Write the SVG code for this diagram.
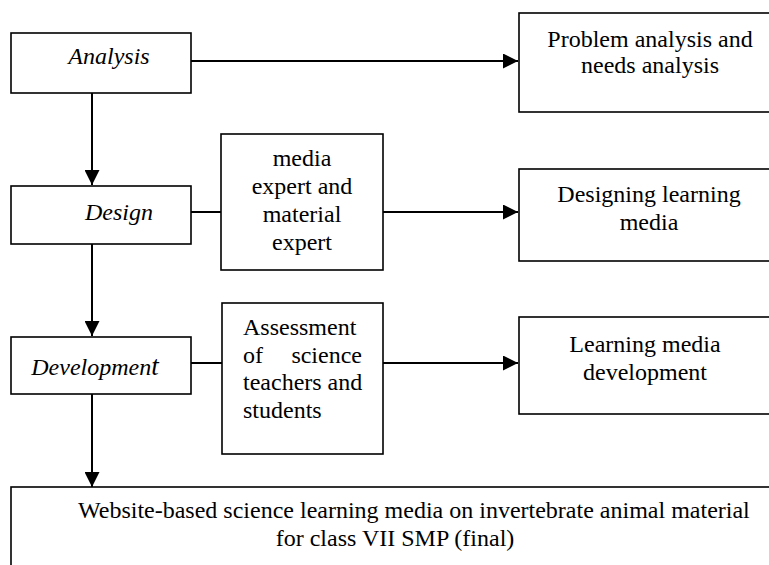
<svg xmlns="http://www.w3.org/2000/svg" width="769" height="565" viewBox="0 0 769 565">
  <style>
    .box { fill: #ffffff; stroke: #000000; stroke-width: 1.6; }
    .link { fill: none; stroke: #000000; stroke-width: 2; }
    .t { font-family: "Liberation Serif", "Times New Roman", serif; font-size: 24px; fill: #000000; }
    .c { text-anchor: middle; }
    .i { font-style: italic; }
  </style>
  <defs>
    <marker id="arrow" markerUnits="userSpaceOnUse" markerWidth="16" markerHeight="15" refX="15" refY="7.5" orient="auto">
      <path d="M0,0 L15,7.5 L0,15 Z" fill="#000000"/>
    </marker>
  </defs>
  <rect x="0" y="0" width="769" height="565" fill="#ffffff"/>

  <g id="connectors">
    <line class="link" x1="191" y1="61" x2="518" y2="61" marker-end="url(#arrow)"/>
    <line class="link" x1="92" y1="93" x2="92" y2="185" marker-end="url(#arrow)"/>
    <line class="link" x1="191" y1="212" x2="221" y2="212"/>
    <line class="link" x1="383" y1="212" x2="518" y2="212" marker-end="url(#arrow)"/>
    <line class="link" x1="92" y1="244" x2="92" y2="336" marker-end="url(#arrow)"/>
    <line class="link" x1="191" y1="363" x2="222" y2="363"/>
    <line class="link" x1="383" y1="363" x2="518" y2="363" marker-end="url(#arrow)"/>
    <line class="link" x1="92" y1="394" x2="92" y2="487" marker-end="url(#arrow)"/>
  </g>

  <g id="analysis">
    <rect class="box" x="11" y="33" width="180" height="60"/>
    <text class="t c i" x="109" y="64">Analysis</text>
  </g>

  <g id="problem-analysis">
    <rect class="box" x="519" y="13" width="262" height="99"/>
    <text class="t c" x="650" y="47">Problem analysis and</text>
    <text class="t c" x="650" y="73">needs analysis</text>
  </g>

  <g id="design">
    <rect class="box" x="11" y="186" width="180" height="58"/>
    <text class="t c i" x="119" y="220">Design</text>
  </g>

  <g id="experts">
    <rect class="box" x="221" y="134" width="162" height="136"/>
    <text class="t c" x="302" y="166">media</text>
    <text class="t c" x="302" y="194">expert and</text>
    <text class="t c" x="302" y="222">material</text>
    <text class="t c" x="302" y="250">expert</text>
  </g>

  <g id="designing-media">
    <rect class="box" x="519" y="169" width="262" height="92"/>
    <text class="t c" x="649" y="202">Designing learning</text>
    <text class="t c" x="649" y="230">media</text>
  </g>

  <g id="development">
    <rect class="box" x="11" y="337" width="180" height="57"/>
    <text class="t c i" x="95" y="375">Developmen<tspan font-size="27">t</tspan></text>
  </g>

  <g id="assessment">
    <rect class="box" x="222" y="303" width="161" height="151"/>
    <text class="t" x="243" y="335">Assessment</text>
    <text class="t" x="243" y="363">of</text>
    <text class="t" x="362" y="363" text-anchor="end">science</text>
    <text class="t" x="243" y="390">teachers and</text>
    <text class="t" x="243" y="418">students</text>
  </g>

  <g id="media-development">
    <rect class="box" x="519" y="317" width="262" height="97"/>
    <text class="t c" x="645" y="352">Learning media</text>
    <text class="t c" x="645" y="380">development</text>
  </g>

  <g id="final-product">
    <rect class="box" x="11" y="487" width="770" height="100"/>
    <text class="t" x="78" y="518">Website-based science learning media on invertebrate animal material</text>
    <text class="t c" x="395" y="546">for class VII SMP (final)</text>
  </g>
</svg>
